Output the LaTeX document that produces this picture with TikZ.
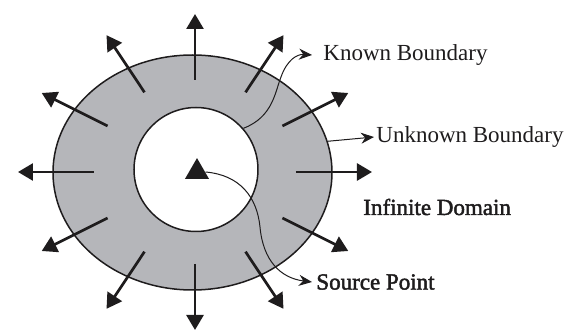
\documentclass[tikz,border=0pt]{standalone}
\usepackage{fontspec}
\setmainfont{Liberation Serif}
\newfontfamily\heavyserif[FakeBold=2]{Liberation Serif}
\usepackage{tikz}
\usetikzlibrary{arrows.meta,shapes.geometric,calc}
\definecolor{ringgray}{RGB}{181,182,186}
\definecolor{inkblack}{RGB}{30,28,29}

\begin{document}
\begin{tikzpicture}[x=0.5pt,y=0.5pt,
    every node/.style={font=\fontsize{11.5}{13}\selectfont},
    ray/.style={-{Triangle[length=7.5pt,width=8.5pt]},line width=1.35pt,draw=inkblack},
    pointer/.style={-{Stealth[length=6.5pt,width=5.5pt]},line width=0.5pt,draw=inkblack},
    lbl/.style={anchor=west,inner sep=0pt,text=inkblack},
    heavy/.style={font=\heavyserif\fontsize{11.5}{13}\selectfont}]
  \useasboundingbox (-195,-160) rectangle (374,172);
  % ring between the two boundaries
  \node[ellipse,draw=inkblack,line width=0.75pt,fill=ringgray,inner sep=0pt,
        minimum width=139.5pt,minimum height=117.5pt] (outer) at (-2.5,-0.5) {};
  \node[circle,draw=inkblack,line width=0.75pt,fill=white,inner sep=0pt,
        minimum size=62pt] (inner) at (1,2.5) {};
  \node[regular polygon,regular polygon sides=3,fill=inkblack,inner sep=0pt,
        minimum size=13.9pt] (src) at (2,0) {};
  % outgoing rays
  \foreach \a in {0,30,...,330}
    \draw[ray] (\a:101 and 92) -- (\a:177 and 158);
  % labels
  \node[lbl] (kb) at (128,117) {Known Boundary};
  \node[lbl] (ub) at (181,35) {Unknown Boundary};
  \node[lbl,heavy] (idom) at (168,-35) {Infinite Domain};
  \node[lbl,heavy] (sp) at (121,-110) {Source Point};
  \draw[pointer] (inner.41) .. controls (78,55) and (80,80) .. (86,95)
                 .. controls (92,112) and (102,118) .. ([xshift=-5.5pt]kb.west);
  \draw[pointer] (outer.13) -- ([xshift=-1pt]ub.west);
  \draw[pointer] (src.east) .. controls (45,-3) and (62,-25) .. (65,-55)
                 .. controls (68,-88) and (85,-106) .. ([xshift=-2pt]sp.west);
\end{tikzpicture}
\end{document}
